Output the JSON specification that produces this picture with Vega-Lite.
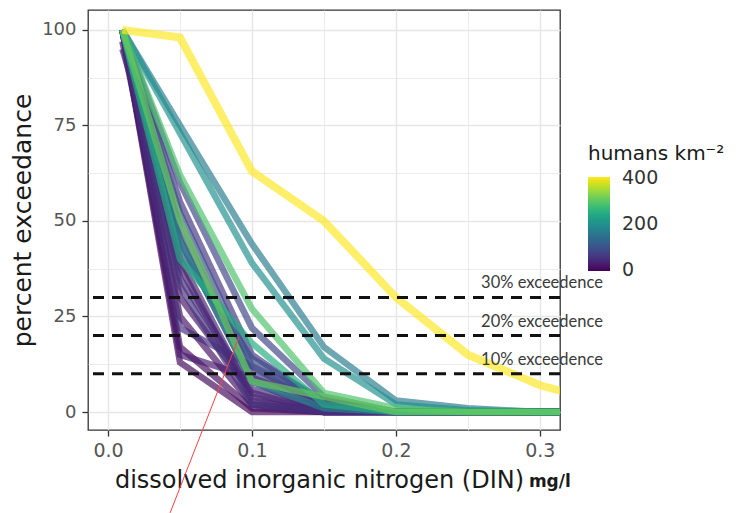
{
  "$schema": "https://vega.github.io/schema/vega-lite/v6.json",
  "width": 472,
  "height": 420,
  "autosize": {"type": "none"},
  "padding": {"left": 88, "top": 10, "right": 176, "bottom": 83},
  "background": "white",
  "config": {
    "view": {"stroke": "#333333", "strokeWidth": 1.3},
    "font": "DejaVu Sans"
  },
  "datasets": {
    "lines": [
      {"id":1,"d":5,"x":0.01,"y":100},{"id":1,"d":5,"x":0.05,"y":13},{"id":1,"d":5,"x":0.1,"y":0},{"id":1,"d":5,"x":0.35,"y":0},
      {"id":2,"d":10,"x":0.01,"y":100},{"id":2,"d":10,"x":0.05,"y":17},{"id":2,"d":10,"x":0.1,"y":1},{"id":2,"d":10,"x":0.15,"y":0},{"id":2,"d":10,"x":0.35,"y":0},
      {"id":3,"d":15,"x":0.01,"y":97},{"id":3,"d":15,"x":0.05,"y":25},{"id":3,"d":15,"x":0.1,"y":2},{"id":3,"d":15,"x":0.15,"y":0},{"id":3,"d":15,"x":0.35,"y":0},
      {"id":4,"d":20,"x":0.01,"y":100},{"id":4,"d":20,"x":0.05,"y":30},{"id":4,"d":20,"x":0.1,"y":5},{"id":4,"d":20,"x":0.15,"y":0},{"id":4,"d":20,"x":0.35,"y":0},
      {"id":5,"d":25,"x":0.01,"y":100},{"id":5,"d":25,"x":0.05,"y":15},{"id":5,"d":25,"x":0.1,"y":9},{"id":5,"d":25,"x":0.15,"y":2},{"id":5,"d":25,"x":0.2,"y":0},{"id":5,"d":25,"x":0.35,"y":0},
      {"id":6,"d":30,"x":0.01,"y":100},{"id":6,"d":30,"x":0.05,"y":38},{"id":6,"d":30,"x":0.1,"y":3},{"id":6,"d":30,"x":0.15,"y":0},{"id":6,"d":30,"x":0.35,"y":0},
      {"id":7,"d":35,"x":0.01,"y":100},{"id":7,"d":35,"x":0.05,"y":40},{"id":7,"d":35,"x":0.1,"y":4},{"id":7,"d":35,"x":0.15,"y":0},{"id":7,"d":35,"x":0.35,"y":0},
      {"id":8,"d":40,"x":0.01,"y":95},{"id":8,"d":40,"x":0.05,"y":45},{"id":8,"d":40,"x":0.1,"y":8},{"id":8,"d":40,"x":0.15,"y":0},{"id":8,"d":40,"x":0.35,"y":0},
      {"id":9,"d":45,"x":0.01,"y":100},{"id":9,"d":45,"x":0.05,"y":35},{"id":9,"d":45,"x":0.1,"y":6},{"id":9,"d":45,"x":0.15,"y":1},{"id":9,"d":45,"x":0.2,"y":0},{"id":9,"d":45,"x":0.35,"y":0},
      {"id":10,"d":50,"x":0.01,"y":100},{"id":10,"d":50,"x":0.05,"y":22},{"id":10,"d":50,"x":0.1,"y":12},{"id":10,"d":50,"x":0.15,"y":1},{"id":10,"d":50,"x":0.2,"y":0},{"id":10,"d":50,"x":0.35,"y":0},
      {"id":11,"d":55,"x":0.01,"y":100},{"id":11,"d":55,"x":0.05,"y":33},{"id":11,"d":55,"x":0.1,"y":2},{"id":11,"d":55,"x":0.15,"y":0},{"id":11,"d":55,"x":0.35,"y":0},
      {"id":12,"d":60,"x":0.01,"y":100},{"id":12,"d":60,"x":0.05,"y":55},{"id":12,"d":60,"x":0.1,"y":15},{"id":12,"d":60,"x":0.15,"y":2},{"id":12,"d":60,"x":0.2,"y":0},{"id":12,"d":60,"x":0.35,"y":0},
      {"id":13,"d":70,"x":0.01,"y":100},{"id":13,"d":70,"x":0.05,"y":48},{"id":13,"d":70,"x":0.1,"y":10},{"id":13,"d":70,"x":0.15,"y":3},{"id":13,"d":70,"x":0.2,"y":0},{"id":13,"d":70,"x":0.35,"y":0},
      {"id":14,"d":80,"x":0.01,"y":100},{"id":14,"d":80,"x":0.05,"y":60},{"id":14,"d":80,"x":0.1,"y":22},{"id":14,"d":80,"x":0.15,"y":4},{"id":14,"d":80,"x":0.2,"y":0},{"id":14,"d":80,"x":0.35,"y":0},
      {"id":15,"d":90,"x":0.01,"y":100},{"id":15,"d":90,"x":0.05,"y":42},{"id":15,"d":90,"x":0.1,"y":14},{"id":15,"d":90,"x":0.15,"y":3},{"id":15,"d":90,"x":0.2,"y":0},{"id":15,"d":90,"x":0.35,"y":0},
      {"id":16,"d":95,"x":0.01,"y":100},{"id":16,"d":95,"x":0.05,"y":52},{"id":16,"d":95,"x":0.1,"y":12},{"id":16,"d":95,"x":0.15,"y":3},{"id":16,"d":95,"x":0.2,"y":0},{"id":16,"d":95,"x":0.35,"y":0},
      {"id":17,"d":165,"x":0.01,"y":100},{"id":17,"d":165,"x":0.05,"y":75},{"id":17,"d":165,"x":0.1,"y":44},{"id":17,"d":165,"x":0.15,"y":17},{"id":17,"d":165,"x":0.2,"y":3},{"id":17,"d":165,"x":0.25,"y":1},{"id":17,"d":165,"x":0.3,"y":0},{"id":17,"d":165,"x":0.35,"y":0},
      {"id":18,"d":180,"x":0.01,"y":100},{"id":18,"d":180,"x":0.05,"y":45},{"id":18,"d":180,"x":0.1,"y":8},{"id":18,"d":180,"x":0.15,"y":1},{"id":18,"d":180,"x":0.2,"y":0},{"id":18,"d":180,"x":0.35,"y":0},
      {"id":19,"d":200,"x":0.01,"y":100},{"id":19,"d":200,"x":0.05,"y":73},{"id":19,"d":200,"x":0.1,"y":39},{"id":19,"d":200,"x":0.15,"y":14},{"id":19,"d":200,"x":0.2,"y":2},{"id":19,"d":200,"x":0.25,"y":0.5},{"id":19,"d":200,"x":0.3,"y":0},{"id":19,"d":200,"x":0.35,"y":0},
      {"id":20,"d":250,"x":0.01,"y":100},{"id":20,"d":250,"x":0.05,"y":40},{"id":20,"d":250,"x":0.1,"y":18},{"id":20,"d":250,"x":0.15,"y":2},{"id":20,"d":250,"x":0.2,"y":0},{"id":20,"d":250,"x":0.35,"y":0},
      {"id":21,"d":290,"x":0.01,"y":100},{"id":21,"d":290,"x":0.05,"y":62},{"id":21,"d":290,"x":0.1,"y":27},{"id":21,"d":290,"x":0.15,"y":5},{"id":21,"d":290,"x":0.2,"y":1},{"id":21,"d":290,"x":0.25,"y":0},{"id":21,"d":290,"x":0.35,"y":0},
      {"id":22,"d":310,"x":0.01,"y":100},{"id":22,"d":310,"x":0.05,"y":50},{"id":22,"d":310,"x":0.1,"y":8},{"id":22,"d":310,"x":0.15,"y":4},{"id":22,"d":310,"x":0.2,"y":0},{"id":22,"d":310,"x":0.35,"y":0},
      {"id":23,"d":405,"x":0.01,"y":100},{"id":23,"d":405,"x":0.05,"y":98},{"id":23,"d":405,"x":0.1,"y":63},{"id":23,"d":405,"x":0.15,"y":50},{"id":23,"d":405,"x":0.2,"y":30},{"id":23,"d":405,"x":0.25,"y":15},{"id":23,"d":405,"x":0.3,"y":7},{"id":23,"d":405,"x":0.35,"y":2}
    ],
    "levels": [
      {"y": 30, "label": "30% exceedence"},
      {"y": 20, "label": "20% exceedence"},
      {"y": 10, "label": "10% exceedence"}
    ]
  },
  "layer": [
    {
      "data": {"name": "lines"},
      "mark": {"type": "line", "clip": true, "strokeOpacity": 0.68, "strokeJoin": "miter", "strokeCap": "butt"},
      "encoding": {
        "x": {
          "field": "x", "type": "quantitative",
          "scale": {"domain": [-0.0139, 0.314], "nice": false, "zero": false},
          "axis": {
            "title": "dissolved inorganic nitrogen (DIN)",
            "values": [0, 0.05, 0.1, 0.15, 0.2, 0.25, 0.3],
            "labelExpr": "round(datum.value*100) % 10 == 0 ? format(datum.value, '.1f') : ''",
            "domain": false,
            "tickColor": "#333333", "tickSize": 6, "tickWidth": 1.3,
            "tickOpacity": {"condition": {"test": "round(datum.value*100) % 10 != 0", "value": 0}, "value": 1},
            "gridColor": "#e6e6e6",
            "gridWidth": {"condition": {"test": "round(datum.value*100) % 10 != 0", "value": 0.8}, "value": 1.4},
            "labelFontSize": 19, "labelColor": "#555555", "labelPadding": 5,
            "titleFontSize": 24, "titleFontWeight": "normal", "titleColor": "#1a1a1a", "titlePadding": 8,
            "titleX": 231, "titleAlign": "center"
          }
        },
        "y": {
          "field": "y", "type": "quantitative",
          "scale": {"domain": [-4.7, 105.2], "nice": false, "zero": false},
          "axis": {
            "title": "percent exceedance",
            "values": [0, 12.5, 25, 37.5, 50, 62.5, 75, 87.5, 100],
            "labelExpr": "datum.value % 25 == 0 ? format(datum.value, 'd') : ''",
            "domain": false,
            "tickColor": "#333333", "tickSize": 6, "tickWidth": 1.3,
            "tickOpacity": {"condition": {"test": "datum.value % 25 != 0", "value": 0}, "value": 1},
            "gridColor": "#e6e6e6",
            "gridWidth": {"condition": {"test": "datum.value % 25 != 0", "value": 0.8}, "value": 1.4},
            "labelFontSize": 18, "labelColor": "#555555", "labelPadding": 6,
            "titleFontSize": 25, "titleFontWeight": "normal", "titleColor": "#1a1a1a", "titlePadding": 6
          }
        },
        "color": {
          "field": "d", "type": "quantitative",
          "scale": {"scheme": "viridis", "domain": [-4, 405]},
          "legend": {
            "title": "humans km⁻²",
            "orient": "none", "legendX": 500, "legendY": 134,
            "direction": "vertical",
            "gradientLength": 94, "gradientThickness": 22,
            "values": [0, 200, 400],
            "titleFontSize": 20, "titleFontWeight": "normal", "titleColor": "#1a1a1a", "titlePadding": 13,
            "labelFontSize": 19, "labelColor": "#333333", "labelOffset": 12
          }
        },
        "detail": {"field": "id"},
        "strokeWidth": {"condition": {"test": "datum.d > 400", "value": 8}, "value": 6.5}
      }
    },
    {
      "data": {"name": "levels"},
      "mark": {"type": "rule", "color": "#111111", "strokeWidth": 3, "strokeDash": [11, 8]},
      "encoding": {
        "y": {"field": "y", "type": "quantitative"}
      }
    },
    {
      "data": {"name": "levels"},
      "mark": {"type": "text", "font": "Lato", "fontSize": 16.5, "color": "#3a3a3a", "align": "center", "baseline": "alphabetic", "dy": -9},
      "encoding": {
        "x": {"datum": 0.3015, "type": "quantitative"},
        "y": {"field": "y", "type": "quantitative"},
        "text": {"field": "label"}
      }
    },
    {
      "data": {"values": [{"note": "mg/l"}]},
      "mark": {"type": "text", "fontSize": 17, "fontWeight": "bold", "color": "#1a1a1a", "align": "left", "baseline": "alphabetic"},
      "encoding": {
        "x": {"datum": 0.2924, "type": "quantitative"},
        "y": {"datum": -19.5, "type": "quantitative"},
        "text": {"field": "note"}
      }
    },
    {
      "data": {"values": [{"note": "arrow"}]},
      "mark": {"type": "rule", "color": "#ff4040", "strokeWidth": 1},
      "encoding": {
        "x": {"datum": 0.091, "type": "quantitative"},
        "y": {"datum": 19.6, "type": "quantitative"},
        "x2": {"datum": 0.0431},
        "y2": {"datum": -26.4}
      }
    }
  ]
}
